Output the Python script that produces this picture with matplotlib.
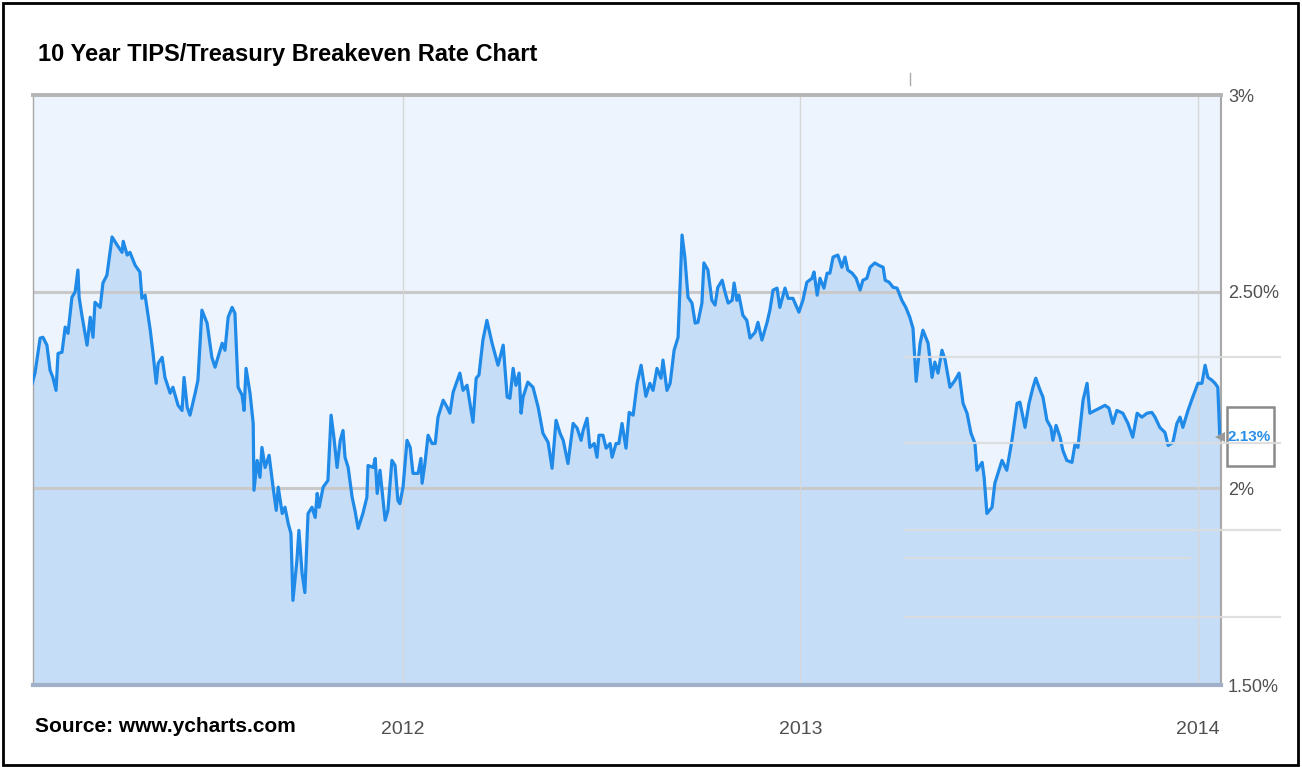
import matplotlib
matplotlib.use('Agg')
import matplotlib.pyplot as plt
from matplotlib.lines import Line2D
from matplotlib.patches import Rectangle

# 10 year breakeven rate (decimal year, percent)
years = [2011.067, 2011.074, 2011.087, 2011.094, 2011.104, 2011.112, 2011.119, 2011.127, 2011.132, 2011.142,
         2011.150, 2011.157, 2011.167, 2011.175, 2011.182, 2011.185, 2011.192, 2011.205, 2011.213, 2011.220,
         2011.225, 2011.238, 2011.245, 2011.255, 2011.268, 2011.281, 2011.293, 2011.296, 2011.306, 2011.313,
         2011.326, 2011.338, 2011.343, 2011.351, 2011.364, 2011.371, 2011.379, 2011.384, 2011.394, 2011.401,
         2011.414, 2011.421, 2011.434, 2011.444, 2011.449, 2011.457, 2011.464, 2011.477, 2011.484, 2011.494,
         2011.507, 2011.519, 2011.527, 2011.545, 2011.552, 2011.560, 2011.570, 2011.577, 2011.585, 2011.595,
         2011.600, 2011.605, 2011.615, 2011.623, 2011.625, 2011.633, 2011.640, 2011.645, 2011.653, 2011.663,
         2011.673, 2011.681, 2011.686, 2011.696, 2011.703, 2011.711, 2011.718, 2011.723, 2011.733, 2011.738,
         2011.746, 2011.753, 2011.761, 2011.771, 2011.779, 2011.784, 2011.789, 2011.799, 2011.811, 2011.819,
         2011.826, 2011.834, 2011.842, 2011.849, 2011.854, 2011.862, 2011.872, 2011.879, 2011.887, 2011.899,
         2011.909, 2011.912, 2011.925, 2011.930, 2011.935, 2011.942, 2011.955, 2011.962, 2011.972, 2011.980,
         2011.987, 2011.992, 2012.000, 2012.010, 2012.018, 2012.025, 2012.038, 2012.045, 2012.048, 2012.055,
         2012.063, 2012.073, 2012.081, 2012.088, 2012.101, 2012.111, 2012.118, 2012.126, 2012.143, 2012.151,
         2012.161, 2012.176, 2012.184, 2012.191, 2012.201, 2012.211, 2012.224, 2012.239, 2012.252, 2012.262,
         2012.269, 2012.277, 2012.284, 2012.292, 2012.297, 2012.302, 2012.314, 2012.327, 2012.340, 2012.352,
         2012.365, 2012.375, 2012.385, 2012.395, 2012.403, 2012.415, 2012.428, 2012.438, 2012.448, 2012.453,
         2012.463, 2012.470, 2012.481, 2012.488, 2012.493, 2012.503, 2012.511, 2012.521, 2012.526, 2012.536,
         2012.543, 2012.551, 2012.561, 2012.569, 2012.579, 2012.589, 2012.599, 2012.611, 2012.621, 2012.629,
         2012.639, 2012.649, 2012.654, 2012.664, 2012.672, 2012.682, 2012.692, 2012.702, 2012.709, 2012.717,
         2012.727, 2012.735, 2012.742, 2012.752, 2012.757, 2012.767, 2012.777, 2012.785, 2012.792, 2012.803,
         2012.810, 2012.818, 2012.828, 2012.833, 2012.840, 2012.845, 2012.855, 2012.865, 2012.873, 2012.886,
         2012.893, 2012.903, 2012.916, 2012.923, 2012.931, 2012.941, 2012.948, 2012.961, 2012.969, 2012.981,
         2012.996, 2013.006, 2013.016, 2013.029, 2013.034, 2013.042, 2013.049, 2013.059, 2013.067, 2013.074,
         2013.082, 2013.094, 2013.104, 2013.112, 2013.119, 2013.130, 2013.140, 2013.150, 2013.157, 2013.167,
         2013.175, 2013.187, 2013.197, 2013.208, 2013.213, 2013.223, 2013.233, 2013.243, 2013.255, 2013.265,
         2013.275, 2013.283, 2013.291, 2013.301, 2013.308, 2013.321, 2013.331, 2013.338, 2013.346, 2013.356,
         2013.364, 2013.376, 2013.389, 2013.399, 2013.409, 2013.419, 2013.429, 2013.439, 2013.444, 2013.457,
         2013.462, 2013.469, 2013.482, 2013.489, 2013.507, 2013.519, 2013.532, 2013.545, 2013.552, 2013.565,
         2013.575, 2013.585, 2013.592, 2013.603, 2013.610, 2013.620, 2013.630, 2013.635, 2013.643, 2013.653,
         2013.660, 2013.670, 2013.683, 2013.691, 2013.698, 2013.711, 2013.721, 2013.728, 2013.741, 2013.753,
         2013.766, 2013.776, 2013.786, 2013.796, 2013.811, 2013.824, 2013.836, 2013.847, 2013.859, 2013.872,
         2013.884, 2013.892, 2013.904, 2013.917, 2013.925, 2013.937, 2013.947, 2013.955, 2013.962, 2013.975,
         2013.987, 2014.000, 2014.010, 2014.018, 2014.025, 2014.035, 2014.043, 2014.050, 2014.055]

rate = [2.267, 2.293, 2.382, 2.384, 2.364, 2.300, 2.282, 2.249, 2.343, 2.346,
        2.410, 2.394, 2.486, 2.499, 2.555, 2.486, 2.440, 2.364, 2.435, 2.384,
        2.473, 2.460, 2.522, 2.542, 2.639, 2.618, 2.600, 2.628, 2.593, 2.600,
        2.567, 2.550, 2.483, 2.491, 2.402, 2.343, 2.267, 2.318, 2.333, 2.282,
        2.242, 2.257, 2.211, 2.198, 2.282, 2.206, 2.186, 2.242, 2.275, 2.453,
        2.420, 2.333, 2.308, 2.369, 2.351, 2.435, 2.460, 2.445, 2.257, 2.237,
        2.198, 2.305, 2.242, 2.165, 1.995, 2.071, 2.028, 2.104, 2.053, 2.084,
        2.003, 1.944, 2.003, 1.936, 1.952, 1.911, 1.885, 1.715, 1.817, 1.893,
        1.784, 1.735, 1.936, 1.952, 1.926, 1.987, 1.952, 2.003, 2.020, 2.186,
        2.130, 2.053, 2.122, 2.147, 2.079, 2.053, 1.977, 1.944, 1.898, 1.936,
        1.977, 2.058, 2.053, 2.076, 1.987, 2.046, 1.919, 1.944, 2.071, 2.058,
        1.969, 1.961, 2.003, 2.122, 2.104, 2.038, 2.038, 2.076, 2.013, 2.063,
        2.135, 2.114, 2.114, 2.181, 2.224, 2.206, 2.191, 2.244, 2.293, 2.249,
        2.262, 2.168, 2.280, 2.288, 2.377, 2.427, 2.369, 2.313, 2.364, 2.232,
        2.229, 2.305, 2.262, 2.293, 2.191, 2.232, 2.270, 2.257, 2.206, 2.140,
        2.117, 2.051, 2.173, 2.140, 2.122, 2.063, 2.165, 2.153, 2.122, 2.147,
        2.178, 2.104, 2.114, 2.079, 2.135, 2.135, 2.102, 2.114, 2.079, 2.114,
        2.114, 2.165, 2.102, 2.193, 2.186, 2.267, 2.313, 2.234, 2.267, 2.249,
        2.305, 2.280, 2.326, 2.249, 2.267, 2.351, 2.384, 2.644, 2.588, 2.486,
        2.471, 2.420, 2.422, 2.471, 2.573, 2.555, 2.478, 2.466, 2.511, 2.529,
        2.499, 2.471, 2.478, 2.522, 2.478, 2.491, 2.440, 2.427, 2.382, 2.397,
        2.422, 2.377, 2.422, 2.453, 2.504, 2.509, 2.460, 2.509, 2.483, 2.483,
        2.448, 2.478, 2.524, 2.534, 2.550, 2.491, 2.534, 2.509, 2.547, 2.547,
        2.588, 2.593, 2.562, 2.588, 2.555, 2.547, 2.534, 2.504, 2.529, 2.534,
        2.562, 2.573, 2.567, 2.562, 2.529, 2.524, 2.511, 2.509, 2.478, 2.460,
        2.435, 2.407, 2.272, 2.369, 2.402, 2.369, 2.282, 2.321, 2.293, 2.351,
        2.326, 2.257, 2.275, 2.293, 2.216, 2.191, 2.140, 2.114, 2.046, 2.066,
        2.028, 1.936, 1.952, 2.013, 2.071, 2.046, 2.122, 2.216, 2.219, 2.155,
        2.216, 2.257, 2.280, 2.249, 2.232, 2.173, 2.155, 2.122, 2.160, 2.130,
        2.097, 2.071, 2.066, 2.114, 2.104, 2.224, 2.267, 2.191, 2.198, 2.204,
        2.211, 2.204, 2.165, 2.198, 2.191, 2.165, 2.130, 2.191, 2.181, 2.191,
        2.193, 2.181, 2.155, 2.142, 2.109, 2.117, 2.165, 2.181, 2.155, 2.198,
        2.232, 2.267, 2.267, 2.313, 2.282, 2.275, 2.267, 2.257, 2.130]

y_ticks = [1.5, 2.0, 2.5, 3.0]
y_labels = ['1.50%', '2%', '2.50%', '3%']
x_ticks = [2012, 2013, 2014]
x_labels = ['2012', '2013', '2014']

font = ['Liberation Sans', 'DejaVu Sans']
W, H = 1302, 767

fig = plt.figure(figsize=(W / 100, H / 100), dpi=100)
fig.patch.set_facecolor('white')
ax = fig.add_axes([33 / W, 1 - 685 / H, (1221 - 33) / W, (685 - 95) / H])
ax.set_facecolor('#edf4fe')

ax.fill_between(years, rate, 1.5, color='#c6ddf8', zorder=1)
ax.plot(years, rate, color='#1f8ae8', linewidth=2.3, zorder=3)

ax.set_xlim(2011.069, 2014.058)
ax.set_ylim(1.5, 3.0)

# grid
for yv in [2.0, 2.5]:
    ax.axhline(yv, color='#c9c9c9', linewidth=2.2, zorder=2)
for xv in x_ticks:
    ax.axvline(xv, color='#d6d6d6', linewidth=1, zorder=2)

ax.spines['top'].set_color('#b5b5b5')
ax.spines['top'].set_linewidth(2.8)
ax.spines['bottom'].set_color('#9fb0c8')
ax.spines['bottom'].set_linewidth(3)
ax.spines['left'].set_color('#a8a8a8')
ax.spines['left'].set_linewidth(1)
ax.spines['right'].set_color('#a8a8a8')
ax.spines['right'].set_linewidth(1.5)

ax.yaxis.tick_right()
ax.set_yticks(y_ticks)
ax.set_yticklabels(y_labels, family=font, fontsize=13, color='#505050')
ax.set_xticks(x_ticks)
ax.set_xticklabels(x_labels, family=font, fontsize=14, color='#505050')
ax.tick_params(axis='y', length=0, pad=5)
ax.tick_params(axis='x', length=0, pad=26)

# last value box (tall grey frame like the screenshot)
last = rate[-1]
ax.add_patch(Rectangle((1227 / W, 1 - 466 / H), 47 / W, 59 / H, transform=fig.transFigure,
                       facecolor='white', edgecolor='#8a8a8a', linewidth=1.8, zorder=5,
                       clip_on=False))
ax.annotate(f'{last:.2f}%', xy=(years[-1], last), xycoords='data',
            xytext=(21, 0), textcoords='offset points', ha='center', va='center',
            family=font, fontsize=11, fontweight='bold', color='#2a8ee8',
            annotation_clip=False, zorder=6)
ax.plot([years[-1]], [last], marker='<', markersize=7, color='#9a9a9a',
        clip_on=False, zorder=7, markeredgewidth=0)

# faint overlay lines on the right side of the screenshot
for yp, x1 in [(357, 1280), (443, 1280), (530, 1280), (558, 1190), (617, 1280)]:
    fig.add_artist(Line2D([905 / W, x1 / W], [1 - yp / H, 1 - yp / H],
                          color='#dcdcdc', linewidth=1.6, alpha=0.9, zorder=4))
fig.add_artist(Line2D([910 / W, 910 / W], [1 - 73 / H, 1 - 85 / H], color='#aaaaaa', linewidth=1))

fig.text(38 / W, 1 - 55 / H, '10 Year TIPS/Treasury Breakeven Rate Chart', family=font,
         fontsize=17, fontweight='bold', color='black', ha='left', va='center')
fig.text(35 / W, 1 - 727 / H, 'Source: www.ycharts.com', family=font,
         fontsize=15, fontweight='bold', color='black', ha='left', va='center')

fig.add_artist(Rectangle((3 / W, 2 / H), (1298 - 3) / W, (764 - 2) / H, transform=fig.transFigure,
                         fill=False, edgecolor='black', linewidth=2))

fig.savefig('out.png', dpi=100)
